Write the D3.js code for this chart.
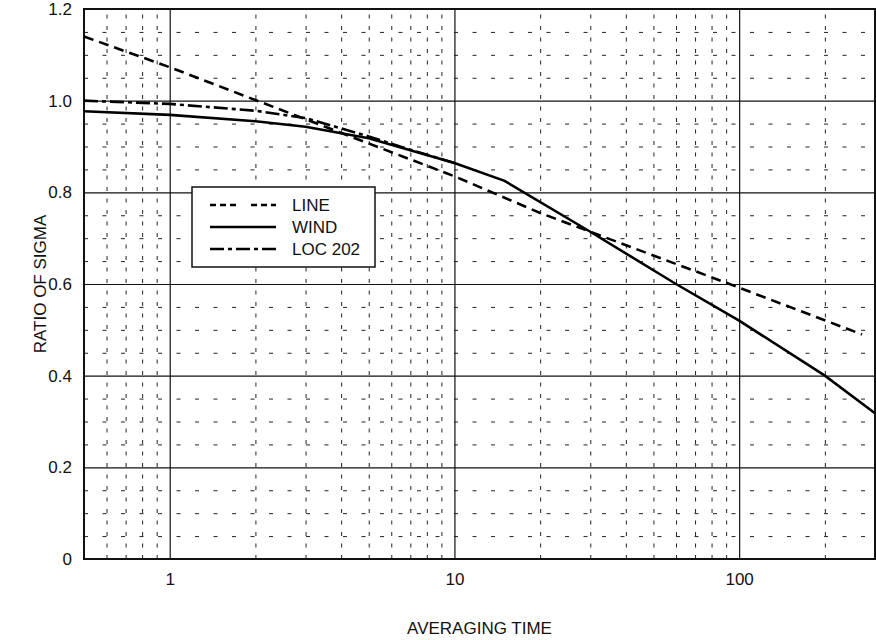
<!DOCTYPE html>
<html>
<head>
<meta charset="utf-8">
<script src="https://cdn.jsdelivr.net/npm/d3@7"></script>
<style>
  body { margin: 0; background: #fff; }
  text { font-family: "Liberation Sans", Arial, Helvetica, sans-serif; fill: #111; }
</style>
</head>
<body>
<div id="wrapper"></div>
<script>
// DATA
const lineX = [0.5, 1, 10, 20, 100, 270]
const lineY = [1.14, 1.073, 0.835, 0.755, 0.592, 0.49]

const windX = [0.5, 1, 2, 3, 5, 7, 10, 15, 30, 60, 100, 200, 300]
const windY = [0.977, 0.969, 0.955, 0.943, 0.918, 0.892, 0.864, 0.825, 0.714, 0.600, 0.52, 0.40, 0.318]

const locX = [0.5, 1, 2, 3, 5, 7, 10]
const locY = [1.0, 0.993, 0.978, 0.962, 0.922, 0.893, 0.864]

const xTicks = [1, 10, 100]
const xMinorTicks = [0.6, 0.7, 0.8, 0.9, 2, 3, 4, 5, 6, 7, 8, 9, 20, 30, 40, 50, 60, 70, 80, 90, 200]
const yTicks = [0, 0.2, 0.4, 0.6, 0.8, 1.0, 1.2]
const yTickLabels = ['0', '0.2', '0.4', '0.6', '0.8', '1.0', '1.2']
const yMinorTicks = d3.range(1, 24).map(i => +(i * 0.05).toFixed(2)).filter(v => Math.round(v * 100) % 20 !== 0)

const legendNames = ['LINE', 'WIND', 'LOC 202']

function drawChart() {

  const series = [
    { name: 'LINE', values: lineX.map((x, i) => ({ x, y: lineY[i] })), dash: '10,6' },
    { name: 'WIND', values: windX.map((x, i) => ({ x, y: windY[i] })), dash: null },
    { name: 'LOC 202', values: locX.map((x, i) => ({ x, y: locY[i] })), dash: '14,4,4,4' }
  ]

  // WRAPPER AND BOUNDS
  let dimensions = {
    width: 876,
    height: 640,
    margin: { top: 9, right: 1, bottom: 81, left: 84 }
  }
  dimensions.boundedWidth = dimensions.width - dimensions.margin.left - dimensions.margin.right
  dimensions.boundedHeight = dimensions.height - dimensions.margin.top - dimensions.margin.bottom

  const wrapper = d3.select('#wrapper')
    .append('svg')
    .attr('width', dimensions.width)
    .attr('height', dimensions.height)

  const bounds = wrapper.append('g')
    .attr('transform', `translate(${dimensions.margin.left}, ${dimensions.margin.top})`)

  // SCALES
  const xScale = d3.scaleLog()
    .domain([0.5, 300])
    .range([0, dimensions.boundedWidth])

  const yScale = d3.scaleLinear()
    .domain([0, 1.2])
    .range([dimensions.boundedHeight, 0])

  // minor gridlines (dashed)
  bounds.append('g')
    .attr('class', 'grid-minor')
    .attr('transform', `translate(0, ${dimensions.boundedHeight})`)
    .call(d3.axisBottom(xScale).tickValues(xMinorTicks).tickSize(-dimensions.boundedHeight).tickFormat(''))
    .call(g => g.select('.domain').remove())
    .selectAll('line')
    .attr('stroke', '#222')
    .attr('stroke-width', 1)
    .attr('stroke-dasharray', '4,7.5')

  bounds.append('g')
    .attr('class', 'grid-minor')
    .call(d3.axisLeft(yScale).tickValues(yMinorTicks).tickSize(-dimensions.boundedWidth).tickFormat(''))
    .call(g => g.select('.domain').remove())
    .selectAll('line')
    .attr('stroke', '#222')
    .attr('stroke-width', 1)
    .attr('stroke-dasharray', '4,14.5')

  // major gridlines
  bounds.append('g')
    .attr('class', 'grid')
    .attr('transform', `translate(0, ${dimensions.boundedHeight})`)
    .call(d3.axisBottom(xScale).tickValues(xTicks).tickSize(-dimensions.boundedHeight).tickFormat(''))
    .call(g => g.select('.domain').remove())
    .selectAll('line')
    .attr('stroke', '#111')
    .attr('stroke-width', 1.2)

  bounds.append('g')
    .attr('class', 'grid')
    .call(d3.axisLeft(yScale).tickValues(yTicks.slice(1, -1)).tickSize(-dimensions.boundedWidth).tickFormat(''))
    .call(g => g.select('.domain').remove())
    .selectAll('line')
    .attr('stroke', '#111')
    .attr('stroke-width', 1.2)

  // AXES (labels only)
  const xAxis = bounds.append('g')
    .attr('transform', `translate(0, ${dimensions.boundedHeight})`)
    .call(d3.axisBottom(xScale).tickValues(xTicks).tickSize(0).tickPadding(14).tickFormat(d3.format('d')))
  xAxis.select('.domain').remove()
  xAxis.selectAll('text').style('font-size', '17px')

  const yAxis = bounds.append('g')
    .call(d3.axisLeft(yScale).tickValues(yTicks).tickSize(0).tickPadding(12).tickFormat((d, i) => yTickLabels[i]))
  yAxis.select('.domain').remove()
  yAxis.selectAll('text').style('font-size', '17px')

  // frame
  bounds.append('rect')
    .attr('width', dimensions.boundedWidth)
    .attr('height', dimensions.boundedHeight)
    .attr('fill', 'none')
    .attr('stroke', '#111')
    .attr('stroke-width', 2)

  // LINES
  const lineGenerator = d3.line()
    .x(d => xScale(d.x))
    .y(d => yScale(d.y))

  bounds.selectAll('.series')
    .data(series)
    .join('path')
    .attr('class', 'series')
    .attr('d', d => lineGenerator(d.values))
    .attr('fill', 'none')
    .attr('stroke', '#000')
    .attr('stroke-width', 2.6)
    .attr('stroke-dasharray', d => d.dash)

  // LEGEND
  const legend = wrapper.append('g')
    .attr('transform', 'translate(192, 187)')

  legend.append('rect')
    .attr('width', 183)
    .attr('height', 80)
    .attr('fill', '#fff')
    .attr('stroke', '#111')
    .attr('stroke-width', 1.5)

  const legendDash = [ '6,4,6,4,6,15', null, '14,4,4,4' ]

  const rows = legend.selectAll('.row')
    .data(legendNames)
    .join('g')
    .attr('class', 'row')
    .attr('transform', (d, i) => `translate(0, ${18 + i * 22})`)

  rows.append('line')
    .attr('x1', 18)
    .attr('x2', 84)
    .attr('stroke', '#000')
    .attr('stroke-width', 2.6)
    .attr('stroke-dasharray', (d, i) => legendDash[i])

  rows.append('text')
    .attr('x', 100)
    .attr('dy', '0.35em')
    .style('font-size', '17px')
    .text(d => d)

  // AXIS TITLES
  wrapper.append('text')
    .attr('x', dimensions.margin.left + dimensions.boundedWidth / 2)
    .attr('y', 634)
    .attr('text-anchor', 'middle')
    .style('font-size', '17px')
    .text('AVERAGING TIME')

  wrapper.append('text')
    .attr('transform', `translate(40, ${dimensions.margin.top + dimensions.boundedHeight / 2}) rotate(-90)`)
    .attr('text-anchor', 'middle')
    .attr('dy', '0.35em')
    .style('font-size', '17px')
    .text('RATIO OF SIGMA')
}

drawChart()
</script>
</body>
</html>
